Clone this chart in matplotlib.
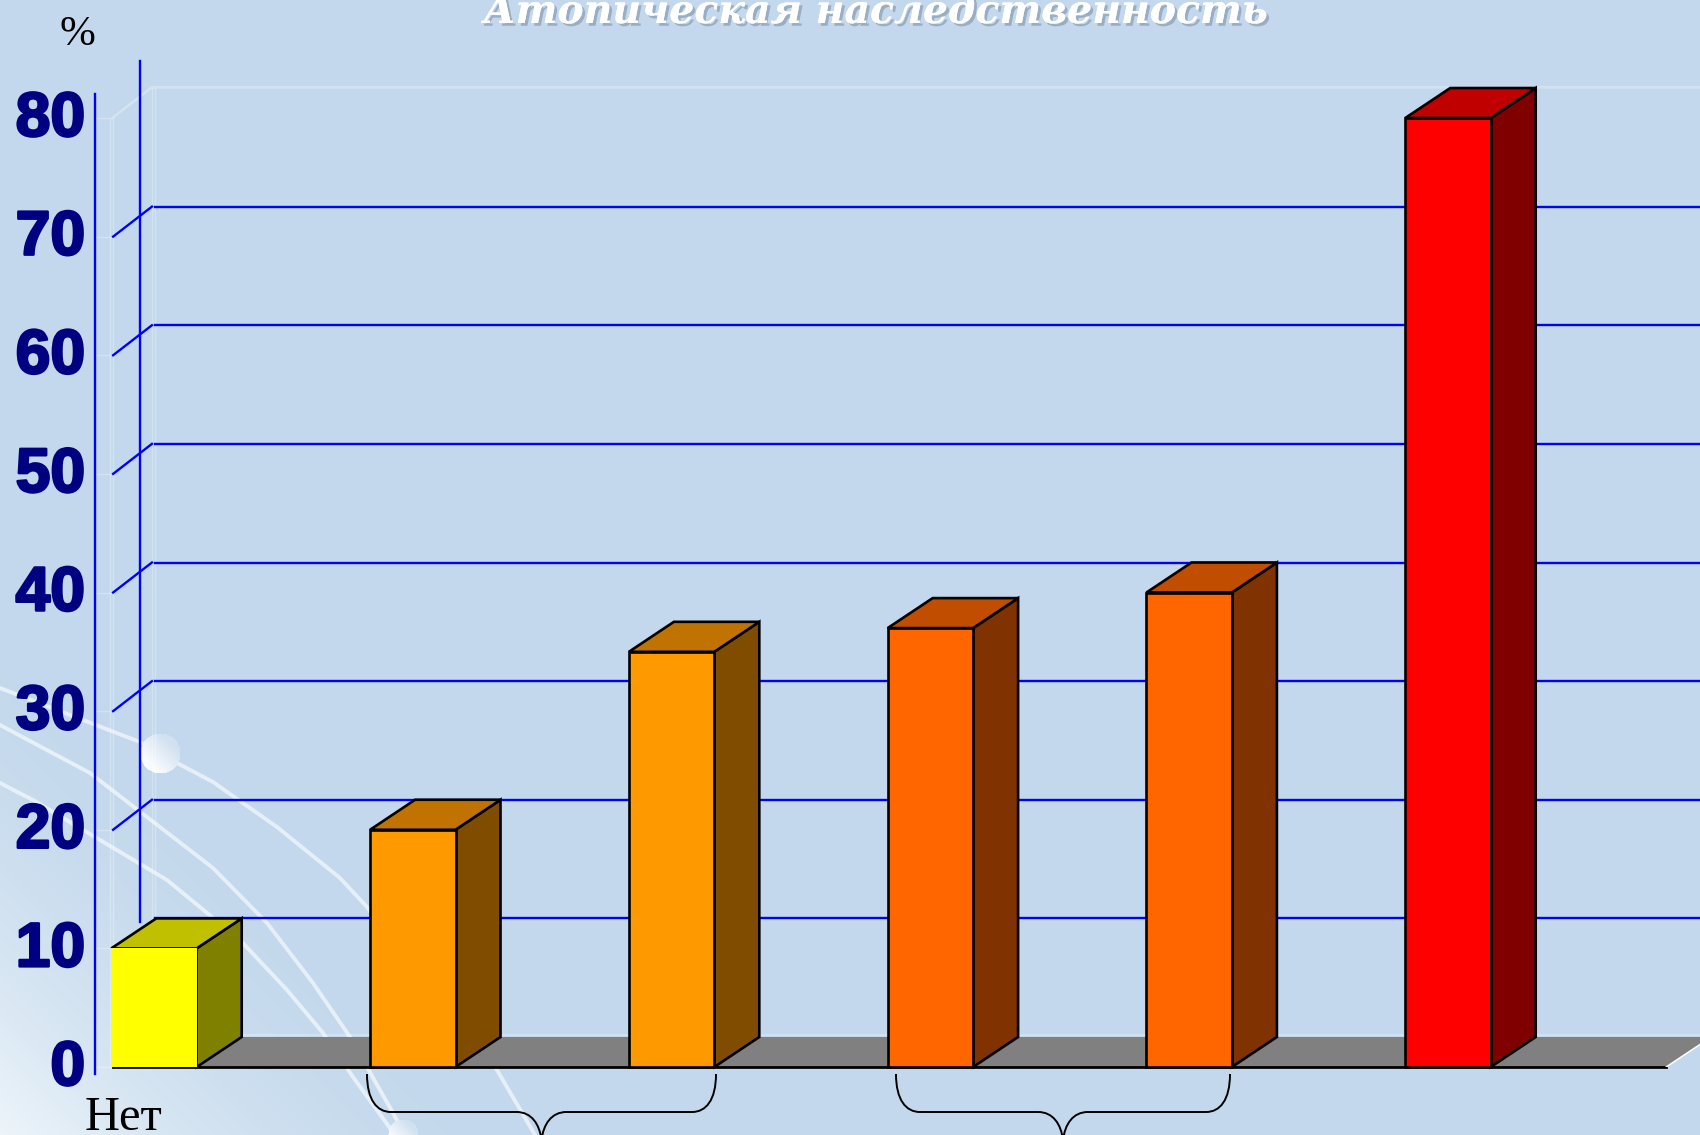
#!/usr/bin/env python3
"""
Атопическая наследственность - псевдо-3D столбцы
"""

import numpy as np
import matplotlib
matplotlib.use('Agg')
import matplotlib.pyplot as plt
import matplotlib.patheffects as pe
from matplotlib.patches import Polygon, PathPatch
from matplotlib.path import Path
from matplotlib.transforms import ScaledTranslation

# data
title = 'Атопическая наследственность'
unit_label = '%'
first_category = 'Нет'
values = [10, 20, 35, 37, 40, 80]
y_ticks = [0, 10, 20, 30, 40, 50, 60, 70, 80]
front_colors = ['#FFFF00', '#FF9900', '#FF9900', '#FF6600', '#FF6600', '#FF0000']
side_colors = ['#808000', '#804D00', '#804D00', '#803300', '#803300', '#800000']
top_colors = ['#C0C000', '#C07300', '#C07300', '#C04D00', '#C04D00', '#C00000']

W, H = 1700, 1135
BG = np.array([195, 216, 236]) / 255

# pixel calibration of the axes
PX_X0, PX_STEP = 154.0, 258.8
PX_Y0, PX_Y80 = 1067.0, 118.0
DX = 45 / PX_STEP
DY = 30 / ((PX_Y0 - PX_Y80) / 80)
BAR_W = 0.33
WALL_X = -0.158
WALL_BACK_X = -0.008
FLOOR_END = 5.843
BLUE = '#0000FF'

fig = plt.figure(figsize=(W / 100, H / 100), dpi=100)

# background, pixel coordinates
bg = fig.add_axes([0, 0, 1, 1], zorder=0)
bg.set_xlim(0, W)
bg.set_ylim(H, 0)
bg.axis('off')

xx, yy = np.meshgrid(np.arange(W), np.arange(H))
t = np.clip(1 - (xx + (H - yy)) / 540, 0, 1) ** 1.9
img = BG + (np.array([0.93, 0.96, 0.98]) - BG) * t[..., None]
bg.imshow(np.clip(img, 0, 1), extent=(0, W, H, 0), aspect='auto', zorder=0)

curves = [
    [(0, 688), (140, 742), (177, 763), (213, 782), (277, 827), (340, 878),
     (367, 907), (430, 990), (497, 1070), (535, 1135)],
    [(0, 725), (90, 773), (213, 868), (267, 923), (313, 983), (350, 1037),
     (393, 1113), (405, 1135)],
    [(0, 783), (33, 800), (167, 880), (240, 940), (287, 990), (323, 1033),
     (353, 1077), (395, 1135)],
]
for c in curves:
    pts = np.array(c)
    bg.plot(pts[:, 0], pts[:, 1], color='white', alpha=0.6, lw=2.8,
            solid_joinstyle='round', zorder=1)


def ball(cx, cy, r):
    x0, y0 = int(cx - r), int(cy - r)
    n = int(2 * r)
    gx, gy = np.meshgrid(np.arange(n), np.arange(n))
    inside = (gx - r) ** 2 + (gy - r) ** 2 <= r ** 2
    shade = np.clip((gy - gx) / (2 * r) + 0.5, 0, 1)
    rgba = np.ones((n, n, 4))
    rgba[..., :3] = (BG + (1 - BG) * (0.25 + 0.65 * shade)[..., None])
    rgba[..., 3] = inside
    bg.imshow(rgba, extent=(x0, x0 + n, y0 + n, y0), aspect='auto', zorder=2)


ball(160, 753, 20)
ball(403, 1134, 15)
bg.set_xlim(0, W)
bg.set_ylim(H, 0)


def brace(left, right, y_top=1074, y_mid=1112):
    mid = (left + right) / 2
    verts = [(left, y_top), (left, y_mid - 12), (left + 10, y_mid), (left + 24, y_mid),
             (mid - 25, y_mid),
             (mid - 10, y_mid), (mid - 2, y_mid + 12), (mid, y_mid + 28),
             (mid, y_mid + 28),
             (mid + 2, y_mid + 12), (mid + 10, y_mid), (mid + 25, y_mid),
             (right - 24, y_mid),
             (right - 10, y_mid), (right, y_mid - 12), (right, y_top)]
    codes = [Path.MOVETO, Path.CURVE4, Path.CURVE4, Path.CURVE4,
             Path.LINETO,
             Path.CURVE4, Path.CURVE4, Path.CURVE4,
             Path.MOVETO,
             Path.CURVE4, Path.CURVE4, Path.CURVE4,
             Path.LINETO,
             Path.CURVE4, Path.CURVE4, Path.CURVE4]
    bg.add_patch(PathPatch(Path(verts, codes), fc='none', ec='black', lw=1.4, zorder=3,
                           clip_on=False))


brace(367, 716)
brace(896, 1230)

# chart axes: left edge is the front axis line, y=0..80 spans the front wall
ax = fig.add_axes([95 / W, (H - PX_Y0) / H, (W - 95) / W, (PX_Y0 - PX_Y80) / H], zorder=1)
ax.patch.set_alpha(0)
ax.set_xlim((95 - PX_X0) / PX_STEP, (W - PX_X0) / PX_STEP)
ax.set_ylim(0, 80)
for s in ax.spines.values():
    s.set_visible(False)
ax.set_xticks([])
ax.set_yticks(y_ticks)
ax.set_yticklabels([str(v) for v in y_ticks], fontfamily='Liberation Sans', fontweight='bold',
                   fontsize=45, color='#000080')
ax.tick_params(axis='y', length=0, pad=7)
for lab in ax.get_yticklabels():
    lab.set_transform(lab.get_transform() + ScaledTranslation(0, 5 / 100, fig.dpi_scale_trans))
    lab.set_path_effects([pe.withStroke(linewidth=1.8, foreground='#000080')])

xmax = ax.get_xlim()[1]
x_axis = ax.get_xlim()[0]

# pale wall outlines
pale = dict(color='white', alpha=0.28, lw=1, clip_on=False, zorder=1)
for off in [0, 0.012]:
    ax.plot([WALL_X - off] * 2, [0, 80], **pale)
    ax.plot([WALL_BACK_X + off] * 2, [DY, 80 + DY], **pale)
    ax.plot([WALL_X, WALL_BACK_X, xmax], [80 + off * 10, 80 + DY + off * 10, 80 + DY + off * 10], **pale)
for v in y_ticks:
    ax.plot([x_axis, WALL_X], [v, v], **pale)

# axis lines and grid
line = dict(color=BLUE, lw=1.7, clip_on=False, zorder=1.5)
ax.plot([x_axis, x_axis], [-0.6, 82], **line)
ax.plot([-0.054, -0.054], [12.2, 84.8], **line)
for v in y_ticks[1:-1]:
    ax.plot([WALL_BACK_X + 0.012, xmax], [v + DY, v + DY], **line)
    if v > 10:
        ax.plot([WALL_X, WALL_BACK_X], [v, v + DY], **line)

# floor
ax.add_patch(Polygon([(WALL_X, 0), (FLOOR_END, 0), (FLOOR_END + DX, DY), (WALL_BACK_X, DY)],
                     fc='#808080', ec='none', zorder=2, clip_on=False))
ax.plot([WALL_BACK_X, xmax], [DY + 0.15, DY + 0.15], color='white', alpha=0.3, lw=1.2, zorder=2)
ax.plot([WALL_X, FLOOR_END], [0, 0], color='black', lw=2, zorder=2.5, clip_on=False)
ax.plot([FLOOR_END, FLOOR_END + DX], [0, DY], color='white', lw=1.1, zorder=2.5)

# bars: front through the library, top and side as offset polygons
xs = np.arange(len(values))
bars = ax.bar(xs, values, width=BAR_W, color=front_colors, edgecolor='black', linewidth=1.9,
              zorder=4, clip_on=False)
bars[0].set_edgecolor('none')
for x, v, sc, tc in zip(xs, values, side_colors, top_colors):
    l, r = x - BAR_W / 2, x + BAR_W / 2
    ax.add_patch(Polygon([(r, 0), (r + DX, DY), (r + DX, v + DY), (r, v)],
                         fc=sc, ec='black', lw=1.9, zorder=3.5, clip_on=False))
    ax.add_patch(Polygon([(l, v), (r, v), (r + DX, v + DY), (l + DX, v + DY)],
                         fc=tc, ec='black', lw=1.9, zorder=3.5, clip_on=False))

# texts
fig.text(875 / W, 1 - 23 / H, title, ha='center', va='baseline', color='white', fontsize=28.4,
         family='DejaVu Serif', weight='bold', style='italic', zorder=5,
         path_effects=[pe.withSimplePatchShadow(offset=(2, -2), shadow_rgbFace='#7f93a8', alpha=0.6),
                       pe.Normal()])
fig.text(77 / W, 1 - 45 / H, unit_label, ha='center', va='baseline', color='black', fontsize=31,
         family='Liberation Serif', zorder=5)
fig.text(123 / W, 1 - 1130 / H, first_category, ha='center', va='baseline', color='black',
         fontsize=35, family='Liberation Serif', zorder=5)

fig.savefig('out.png', dpi=100)
